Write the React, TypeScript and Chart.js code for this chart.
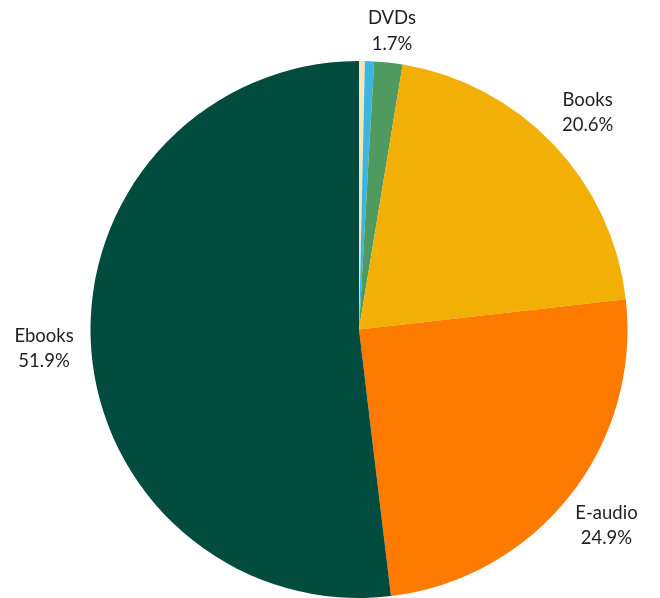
import React, { useEffect, useRef } from "react";
import { Chart, registerables } from "chart.js";

Chart.register(...registerables);

const categories = ["Other", "CDs", "DVDs", "Books", "E-audio", "Ebooks"];
const shares = [0.35, 0.55, 1.7, 20.6, 24.9, 51.9];
const shareLabels = ["0.4%", "0.6%", "1.7%", "20.6%", "24.9%", "51.9%"];
const sliceColors = ["#f7e4b8", "#3bb6e0", "#4f9a5e", "#f2af06", "#ff7b00", "#024b3f"];
const minLabelShare = 1;

const outsideLabels = {
  id: "outsideLabels",
  afterDraw(chart: any) {
    const ctx = chart.ctx;
    const meta = chart.getDatasetMeta(0);
    ctx.save();
    ctx.font = '18.5px "Lato", "DejaVu Sans", sans-serif';
    ctx.fillStyle = "#1f1f1f";
    ctx.textAlign = "center";
    ctx.textBaseline = "middle";
    meta.data.forEach((arc: any, i: number) => {
      if (shares[i] < minLabelShare) return;
      const { x, y, startAngle, endAngle, outerRadius } = arc.getProps(
        ["x", "y", "startAngle", "endAngle", "outerRadius"],
        true
      );
      const mid = (startAngle + endAngle) / 2;
      const dist = outerRadius + (i === 2 ? 32 : 47);
      const lx = x + Math.cos(mid) * dist;
      const ly = y + Math.sin(mid) * dist;
      ctx.fillText(categories[i], lx, ly - 12.5);
      ctx.fillText(shareLabels[i], lx, ly + 13);
    });
    ctx.restore();
  },
};

export default function App() {
  const ref = useRef<HTMLCanvasElement | null>(null);
  useEffect(() => {
    if (!ref.current) return;
    const chart = new Chart(ref.current, {
      type: "pie",
      data: {
        labels: categories,
        datasets: [
          {
            data: shares,
            backgroundColor: sliceColors,
            borderWidth: 0,
          },
        ],
      },
      options: {
        animation: false,
        responsive: false,
        maintainAspectRatio: false,
        layout: { padding: { left: 90, right: 32, top: 61, bottom: 0 } },
        plugins: {
          legend: { display: false },
          tooltip: { enabled: false },
        },
      },
      plugins: [outsideLabels],
    });
    return () => chart.destroy();
  }, []);
  return (
    <div style={{ position: "absolute", left: 0, top: 0, width: 660, height: 598, background: "#fff" }}>
      <canvas ref={ref} width={660} height={598} style={{ width: 660, height: 598 }} />
    </div>
  );
}
